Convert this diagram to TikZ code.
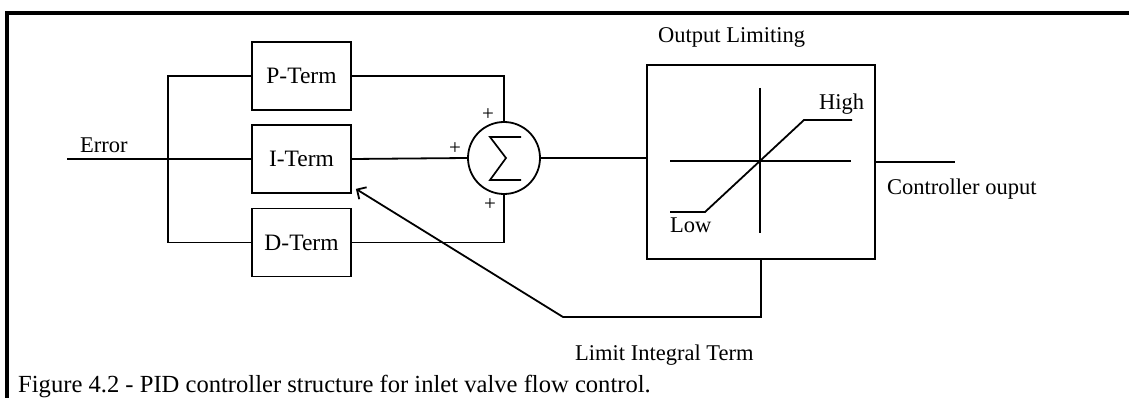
\documentclass[tikz,border=0pt]{standalone}
\usepackage{fontspec}
\setmainfont{Liberation Serif}
\usetikzlibrary{arrows.meta}
\begin{document}
\begin{tikzpicture}[x=1pt,y=-1pt,
  wire/.style={line width=1.8pt},
  frameline/.style={line width=3.2pt},
  termbox/.style={draw,line width=1.8pt,minimum width=99pt,minimum height=68pt,inner sep=0pt,font=\fontsize{23.5}{23.5}\selectfont},
  sumnode/.style={draw,circle,line width=1.8pt,minimum size=72pt,inner sep=0pt},
  limbox/.style={draw,line width=1.8pt,minimum width=228pt,minimum height=194pt,inner sep=0pt},
  lbl/.style={inner sep=0pt,anchor=base west,font=\fontsize{22.5}{22.5}\selectfont},
  plus/.style={inner sep=0pt,font=\fontsize{21}{21}\selectfont}]
\useasboundingbox (0,0) rectangle (1129,398);
% frame
\draw[frameline] (7,398) -- (7,13) -- (1129,13);
% blocks
\node[termbox] (pterm) at (301.5,76) {P-Term};
\node[termbox] (iterm) at (301.5,159) {I-Term};
\node[termbox] (dterm) at (301.5,242.5) {D-Term};
\node[sumnode] (sum) at (504,158) {};
\draw[line width=1.7pt,line join=miter] ([shift={(17,-21)}]sum.center) -- ([shift={(-14,-21)}]sum.center)
  -- ([shift={(2,0)}]sum.center) -- ([shift={(-14,22)}]sum.center) -- ([shift={(17,22)}]sum.center);
\node[limbox] (lim) at (761,162) {};
% labels
\node[lbl] (errlbl) at (80,153) {Error};
\node[lbl] (outlim) at (658,43) {Output Limiting};
\node[lbl] (high) at (819,110) {High};
\node[lbl] (low) at (670,233) {Low};
\node[lbl] (ctrl) at (887,195) {Controller ouput};
\node[lbl] (limint) at (575,360) {Limit Integral Term};
\node[inner sep=0pt,anchor=base west,font=\fontsize{24.6}{24.6}\selectfont] (caption) at (18,392) {Figure 4.2 - PID controller structure for inlet valve flow control.};
\node[plus] (p1) at (488,115) {+};
\node[plus] (p2) at (455,149) {+};
\node[plus] (p3) at (490,205) {+};
% limiter characteristic
\draw[wire] (670,161) -- (851,161);
\draw[wire] (760,88) -- (760,233);
\draw[wire] (670,212) -- (705,212) -- (804,120) -- (852,120);
% connectors
\coordinate (err) at (67,159);
\coordinate (out) at (955,162);
\coordinate (fb) at (563,317);
\draw[wire] (err) -- (iterm.west);
\draw[wire] (pterm.west) -- ++(-83.5,0) |- (dterm.west);
\draw[wire] (pterm.east) -| (sum.north);
\draw[wire] (iterm.east) -- (sum.west);
\draw[wire] (dterm.east) -| (sum.south);
\draw[wire] (sum.east) -- (sum.east -| lim.west);
\draw[wire] (lim.east) -- (out);
\draw[wire,-{Straight Barb[length=7pt,width=14pt]}] (lim.south) |- (fb) -- ([shift={(4,-5)}]iterm.south east);
\end{tikzpicture}
\end{document}
